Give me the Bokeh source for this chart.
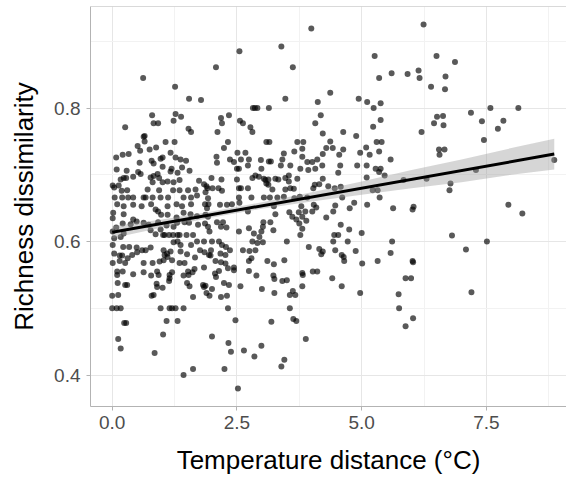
from bokeh.plotting import figure
from bokeh.models import FixedTicker, NumeralTickFormatter, Range1d, Span
from bokeh.embed import file_html
from bokeh.resources import INLINE

# ---- data ----
temp_distance = [
    0.62, 1.26, 1.54, 1.78, 0.80, 1.27, 1.38, 0.83, 0.92, 1.23, 0.26, 1.53, 1.58, 0.65,
    3.99, 2.55, 3.39, 2.08, 3.62, 3.47, 4.12, 2.82, 2.86, 2.91, 3.14, 2.34, 2.18, 2.20, 2.56, 2.62, 4.18, 4.07, 2.77, 2.81, 2.11, 4.22,
    6.24, 5.26, 6.50, 5.60, 5.92, 6.14, 5.35, 6.16, 6.39, 4.37, 4.94, 5.11, 5.38, 5.24, 5.38, 5.23, 6.51, 6.45, 4.63, 4.89, 6.20,
    6.87, 6.68, 6.67, 7.19, 7.58, 8.14, 7.41, 7.84, 7.73, 6.63, 6.64, 7.45,
    6.55, 6.66, 6.56, 8.86, 7.29, 6.78, 6.76, 7.94, 8.22, 6.81, 7.51, 7.09,
    4.41, 4.60, 4.97, 5.88, 5.99, 5.74, 5.75, 6.03, 5.88, 7.20,
    4.37, 4.29, 4.42, 4.63, 4.55, 5.30, 5.40, 5.09, 4.97, 5.16, 5.35, 5.58, 4.57, 4.91, 5.10, 5.28, 5.38, 5.35, 5.46, 4.53,
    5.10, 4.33, 4.46, 4.58, 5.22, 5.32, 5.36, 4.61, 5.84, 6.30, 4.47, 4.85, 4.76, 5.11, 5.63, 6.04, 6.02, 4.43, 4.29, 4.58,
    4.75, 4.45, 4.53, 5.00, 4.43, 4.72, 5.61, 4.47, 4.88, 4.22, 4.19, 5.58, 4.60, 4.64, 4.65, 5.32, 5.01, 6.02, 6.03,
    2.06, 2.14, 2.08, 2.44, 2.89, 3.23, 3.25, 3.41, 3.50, 3.81, 3.82, 4.11, 2.24, 2.34, 2.57, 1.87, 2.00, 3.00, 3.81, 1.89,
    1.95, 2.18, 2.30, 3.25, 3.56, 3.62, 3.67, 2.32, 3.56, 2.47, 3.19, 3.63, 3.69, 2.00, 3.88, 2.33, 2.99, 2.38, 2.64, 2.85,
    3.45, 3.39, 2.25, 2.52,
    0.10, 0.21, 0.42, 0.10, 0.78, 0.90, 0.93, 1.15, 1.15, 1.14, 1.43, 1.52, 1.53, 0.11, 0.26, 0.30, 0.89, 0.90, 1.01, 1.50,
    1.55, 1.82, 1.84, 1.62, 0.00, 0.12, 0.79, 0.83, 0.00, 0.09, 0.17, 0.97, 1.15, 1.20, 1.27, 1.43, 0.24, 0.28, 1.09, 1.31,
    1.02, 0.12, 0.17, 0.85, 1.62, 1.43,
    0.63, 0.65, 1.07, 1.25, 0.51, 0.56, 0.75, 0.88, 1.01, 0.97, 1.17, 0.08, 0.21, 0.33, 1.27, 1.37, 1.48, 0.55, 0.79, 0.83,
    1.01, 1.19, 1.17, 1.31, 1.40, 1.55, 0.09, 0.29, 0.52, 0.57, 0.91, 0.83, 0.77, 0.42, 0.28, 0.17, 0.23, 0.01, 0.04, 0.13,
    1.11, 1.23, 0.94, 1.01, 0.81, 1.35, 1.74, 1.84, 1.91, 1.87, 1.67, 0.71, 0.94, 1.22, 1.35, 1.52, 0.30, 0.19,
    0.05, 0.20, 0.32, 0.42, 0.63, 0.67, 0.81, 0.97, 1.12, 1.43, 1.58, 1.70, 1.92,
    0.10, 0.23, 0.42, 0.59, 0.78, 1.29, 1.40, 1.58, 1.86, 1.11, 0.87, 0.92, 0.02, 0.01, 0.23,
    1.11, 0.98, 1.29, 1.43, 1.57, 1.70, 1.87, 0.42, 0.49, 0.37, 0.21, 0.08, 0.63, 0.73, 0.92, 0.77, 0.87, 0.97,
    1.09, 1.23, 1.30, 1.45, 1.54, 1.72, 1.86, 0.01, 0.04, 0.01, 0.23, 0.17,
    1.02, 1.05, 1.14, 1.22, 1.31, 1.35, 1.49, 1.62, 1.31, 1.37, 1.23, 1.70, 1.84, 1.58,
    0.22, 0.34, 0.49, 0.60, 0.67, 0.77, 0.50, 0.40, 0.31, 0.04, 0.15, 0.20,
    1.03, 1.10, 1.05, 1.17, 1.11, 1.20, 0.95, 1.03, 1.37, 1.50, 1.66, 1.76, 1.85, 1.94,
    0.01, 0.15, 0.26, 0.63, 0.81, 1.35, 1.45, 1.65, 1.84, 0.63, 1.20, 1.61,
    2.32, 2.24, 3.09, 3.15, 3.71, 3.83, 3.81, 3.65, 2.09, 2.10,
    2.51, 2.67, 2.74, 2.58, 2.44, 2.36, 2.50, 2.54, 2.72, 2.98, 3.14, 3.18, 3.41, 3.44, 3.38, 3.57,
    3.81, 3.91, 4.01, 4.11, 4.22, 3.77, 3.93, 4.07, 4.21,
    2.99, 2.87, 2.81, 2.94, 3.07, 3.04, 3.09, 3.13, 3.27, 3.33, 3.47, 3.54, 3.71, 3.54,
    1.99, 2.19, 2.01, 2.13, 2.20, 1.89, 2.50, 2.54, 2.58, 2.72, 3.13, 3.21, 3.47, 3.57, 3.64,
    4.06, 4.15, 4.03, 4.22,
    2.54, 2.79, 3.04, 3.16, 3.31, 3.44, 3.65, 3.76, 3.91,
    1.93, 1.90, 2.16, 2.30, 2.40, 2.55, 2.72, 3.24, 3.27, 3.55, 3.74, 3.79, 4.04, 4.09, 3.87, 4.01, 1.92,
    3.61, 3.69, 3.81, 3.89, 3.75, 3.81, 3.77, 3.03, 3.17, 3.02, 2.99, 3.23,
    2.10, 2.22, 2.29, 2.18, 1.92, 1.95, 2.54, 2.74, 2.84, 2.95, 2.81, 2.91, 3.02,
    2.00, 2.14, 2.20, 2.28, 2.36, 1.98, 1.97, 2.17, 2.27, 2.62, 2.75, 2.79, 2.87,
    3.50, 3.94, 4.15, 3.45, 3.11, 3.24, 2.74, 2.07, 2.18, 2.27, 2.44, 2.32, 2.74, 4.02,
]

richness_dissimilarity = [
    0.845, 0.832, 0.814, 0.812, 0.789, 0.791, 0.787, 0.777, 0.777, 0.781, 0.771, 0.769, 0.764, 0.758,
    0.919, 0.885, 0.892, 0.861, 0.861, 0.814, 0.809, 0.800, 0.800, 0.800, 0.800, 0.789, 0.785, 0.777, 0.781, 0.777, 0.789, 0.777, 0.771, 0.764, 0.764, 0.762,
    0.925, 0.878, 0.878, 0.852, 0.851, 0.856, 0.845, 0.845, 0.832, 0.823, 0.814, 0.809, 0.807, 0.800, 0.782, 0.772, 0.787, 0.777, 0.764, 0.758, 0.764,
    0.869, 0.847, 0.828, 0.793, 0.800, 0.800, 0.780, 0.781, 0.769, 0.788, 0.774, 0.752,
    0.738, 0.738, 0.730, 0.722, 0.707, 0.687, 0.677, 0.655, 0.642, 0.609, 0.600, 0.588,
    0.545, 0.533, 0.523, 0.545, 0.545, 0.521, 0.500, 0.485, 0.473, 0.524,
    0.750, 0.740, 0.740, 0.738, 0.730, 0.749, 0.749, 0.741, 0.733, 0.730, 0.735, 0.723, 0.714, 0.714, 0.714, 0.709, 0.709, 0.704, 0.699, 0.703,
    0.696, 0.683, 0.680, 0.682, 0.677, 0.677, 0.666, 0.666, 0.692, 0.694, 0.654, 0.658, 0.650, 0.655, 0.650, 0.652, 0.648, 0.645, 0.636, 0.625,
    0.618, 0.610, 0.610, 0.613, 0.600, 0.600, 0.600, 0.587, 0.586, 0.585, 0.581, 0.583, 0.580, 0.577, 0.571, 0.571, 0.567, 0.571, 0.569,
    0.552, 0.556, 0.547, 0.557, 0.549, 0.549, 0.544, 0.541, 0.542, 0.553, 0.550, 0.555, 0.538, 0.535, 0.533, 0.534, 0.529, 0.529, 0.533, 0.523,
    0.519, 0.517, 0.519, 0.523, 0.520, 0.526, 0.520, 0.500, 0.500, 0.482, 0.480, 0.484, 0.481, 0.458, 0.454, 0.448, 0.444, 0.435, 0.437, 0.428,
    0.423, 0.413, 0.409, 0.380,
    0.555, 0.555, 0.551, 0.550, 0.549, 0.555, 0.550, 0.550, 0.545, 0.541, 0.549, 0.555, 0.550, 0.538, 0.535, 0.535, 0.537, 0.532, 0.531, 0.538,
    0.533, 0.535, 0.532, 0.517, 0.519, 0.520, 0.519, 0.520, 0.500, 0.500, 0.500, 0.500, 0.500, 0.500, 0.500, 0.500, 0.478, 0.478, 0.481, 0.481,
    0.461, 0.454, 0.440, 0.433, 0.409, 0.400,
    0.757, 0.750, 0.749, 0.749, 0.743, 0.736, 0.738, 0.741, 0.726, 0.724, 0.733, 0.726, 0.730, 0.731, 0.726, 0.723, 0.721, 0.718, 0.721, 0.717,
    0.712, 0.709, 0.705, 0.703, 0.711, 0.706, 0.708, 0.706, 0.704, 0.701, 0.701, 0.698, 0.696, 0.697, 0.695, 0.693, 0.695, 0.684, 0.681, 0.684,
    0.690, 0.689, 0.695, 0.689, 0.689, 0.692, 0.691, 0.686, 0.680, 0.674, 0.678, 0.678, 0.677, 0.677, 0.677, 0.677, 0.677, 0.676,
    0.666, 0.666, 0.666, 0.666, 0.666, 0.666, 0.666, 0.666, 0.666, 0.666, 0.666, 0.669, 0.665,
    0.656, 0.653, 0.655, 0.653, 0.656, 0.656, 0.653, 0.656, 0.656, 0.653, 0.648, 0.645, 0.643, 0.635, 0.641,
    0.640, 0.640, 0.636, 0.643, 0.641, 0.638, 0.640, 0.633, 0.630, 0.626, 0.627, 0.621, 0.628, 0.625, 0.629, 0.617, 0.611, 0.618,
    0.624, 0.622, 0.628, 0.629, 0.628, 0.625, 0.627, 0.615, 0.605, 0.595, 0.612, 0.607,
    0.610, 0.610, 0.610, 0.610, 0.610, 0.610, 0.610, 0.610, 0.600, 0.595, 0.599, 0.600, 0.600, 0.595,
    0.592, 0.592, 0.591, 0.587, 0.587, 0.591, 0.584, 0.580, 0.575, 0.582, 0.579, 0.579,
    0.587, 0.582, 0.580, 0.585, 0.577, 0.572, 0.570, 0.572, 0.585, 0.581, 0.576, 0.587, 0.584, 0.580,
    0.568, 0.571, 0.568, 0.568, 0.568, 0.568, 0.568, 0.559, 0.561, 0.554, 0.554, 0.554,
    0.749, 0.740, 0.749, 0.749, 0.749, 0.749, 0.739, 0.735, 0.727, 0.718,
    0.733, 0.733, 0.723, 0.723, 0.719, 0.723, 0.709, 0.709, 0.714, 0.722, 0.720, 0.720, 0.723, 0.732, 0.714, 0.714,
    0.727, 0.719, 0.719, 0.723, 0.731, 0.709, 0.707, 0.709, 0.714,
    0.709, 0.699, 0.695, 0.697, 0.692, 0.694, 0.687, 0.693, 0.694, 0.693, 0.695, 0.699, 0.694, 0.690,
    0.695, 0.693, 0.680, 0.680, 0.676, 0.683, 0.693, 0.680, 0.680, 0.680, 0.685, 0.678, 0.678, 0.680, 0.679,
    0.685, 0.686, 0.680, 0.694,
    0.666, 0.666, 0.666, 0.666, 0.666, 0.667, 0.665, 0.667, 0.666,
    0.656, 0.650, 0.655, 0.655, 0.656, 0.658, 0.645, 0.653, 0.641, 0.644, 0.644, 0.653, 0.655, 0.651, 0.645, 0.645, 0.637,
    0.637, 0.633, 0.637, 0.631, 0.627, 0.619, 0.610, 0.629, 0.629, 0.622, 0.615, 0.617,
    0.629, 0.629, 0.621, 0.622, 0.622, 0.615, 0.615, 0.620, 0.612, 0.607, 0.600, 0.598, 0.599,
    0.600, 0.600, 0.595, 0.592, 0.587, 0.587, 0.579, 0.582, 0.580, 0.587, 0.586, 0.575, 0.587,
    0.600, 0.592, 0.589, 0.572, 0.571, 0.566, 0.571, 0.571, 0.569, 0.567, 0.561, 0.560, 0.556, 0.555,
]

# fitted line and its confidence band
fit_x = [0.0, 8.86]
fit_y = [0.614, 0.731]
band_x = [0.0, 1.0, 2.0, 3.0, 4.0, 5.0, 6.0, 7.0, 8.0, 8.86]
band_lo = [0.605, 0.621, 0.636, 0.649, 0.660, 0.670, 0.680, 0.689, 0.700, 0.708]
band_hi = [0.623, 0.633, 0.645, 0.659, 0.674, 0.690, 0.707, 0.723, 0.740, 0.754]

x_ticks = [0.0, 2.5, 5.0, 7.5]
x_minor = [1.25, 3.75, 6.25, 8.75]
y_ticks = [0.4, 0.6, 0.8]
y_minor = [0.5, 0.7, 0.9]

FONT = "Liberation Sans"
BORDER = "#b3b3b3"

p = figure(width=566, height=477, output_backend="svg", toolbar_location=None,
           x_range=Range1d(-0.435, 9.105), y_range=Range1d(0.353, 0.952),
           min_border_left=90, min_border_right=0, min_border_top=6, min_border_bottom=70)

p.background_fill_color = "white"
p.border_fill_color = "white"
p.outline_line_color = None

p.scatter(temp_distance, richness_dissimilarity, size=6, fill_color="black",
          fill_alpha=0.65, line_color=None)
p.varea(x=band_x, y1=band_lo, y2=band_hi, fill_color="#999999", fill_alpha=0.4)
p.line(fit_x, fit_y, line_color="black", line_width=3)

p.add_layout(Span(location=0.952, dimension="width", line_color=BORDER, line_width=1))

p.xaxis.ticker = FixedTicker(ticks=x_ticks, minor_ticks=x_minor)
p.yaxis.ticker = FixedTicker(ticks=y_ticks, minor_ticks=y_minor)
p.xaxis.formatter = NumeralTickFormatter(format="0.0")
p.yaxis.formatter = NumeralTickFormatter(format="0.0")

for ax in (p.xaxis, p.yaxis):
    ax.axis_line_color = BORDER
    ax.major_tick_line_color = BORDER
    ax.major_tick_out = 4
    ax.major_tick_in = 0
    ax.minor_tick_line_color = None
    ax.major_label_text_font = FONT
    ax.major_label_text_font_size = "19px"
    ax.major_label_text_color = "#4d4d4d"
    ax.axis_label_text_font = FONT
    ax.axis_label_text_font_size = "26px"
    ax.axis_label_text_font_style = "normal"
    ax.axis_label_text_color = "black"

p.xaxis.axis_label = "Temperature distance (°C)"
p.yaxis.axis_label = "Richness dissimilarity"
p.xaxis.major_label_standoff = 5
p.yaxis.major_label_standoff = 6
p.xaxis.axis_label_standoff = 13
p.yaxis.axis_label_standoff = 12

p.xgrid.grid_line_color = "#e6e6e6"
p.ygrid.grid_line_color = "#e6e6e6"
p.xgrid.minor_grid_line_color = "#f2f2f2"
p.ygrid.minor_grid_line_color = "#f2f2f2"

open("out.html", "w").write(file_html(p, INLINE))
